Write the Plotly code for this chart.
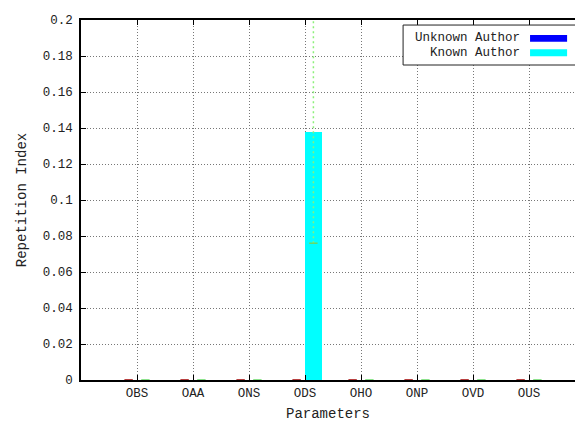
import plotly.graph_objects as go

categories = ["OBS", "OAA", "ONS", "ODS", "OHO", "ONP", "OVD", "OUS"]
unknown_vals = [0, 0, 0, 0, 0, 0, 0, 0]
known_vals = [0, 0, 0, 0.1378, 0, 0, 0, 0]
unknown_err = [0, 0, 0, 0, 0, 0, 0, 0]
known_err = [0, 0, 0, 0.0618, 0, 0, 0, 0]
y_ticks = [0, 0.02, 0.04, 0.06, 0.08, 0.1, 0.12, 0.14, 0.16, 0.18, 0.2]
y_ticklabels = ["0", "0.02", "0.04", "0.06", "0.08", "0.1", "0.12", "0.14", "0.16", "0.18", "0.2"]

FONT = "Courier New, Liberation Mono, monospace"
BW = 0.3
xs = list(range(len(categories)))

fig = go.Figure()
fig.add_trace(go.Bar(x=xs, y=unknown_vals, width=BW, offset=-BW, marker=dict(color="#0000ff", line=dict(width=0)),
                     name="Unknown Author", showlegend=False))
fig.add_trace(go.Bar(x=xs, y=known_vals, width=BW, offset=0, marker=dict(color="#00ffff", line=dict(width=0)),
                     name="Known Author", showlegend=False))

def err_traces(vals, errs, shift, linecol, capcol):
    lx, ly, cx, cy = [], [], [], []
    for i, (v, e) in enumerate(zip(vals, errs)):
        x = i + shift
        lx += [x, x, None]
        ly += [v - e, v + e, None]
        cx += [x]
        cy += [v - e]
    fig.add_trace(go.Scatter(x=lx, y=ly, mode="lines", line=dict(color=linecol, width=1.5, dash="2px,3px"),
                             showlegend=False, hoverinfo="skip", cliponaxis=False))
    fig.add_trace(go.Scatter(x=cx, y=cy, mode="markers",
                             marker=dict(symbol="line-ew", size=6, line=dict(color=capcol, width=1.5)),
                             showlegend=False, hoverinfo="skip"))

err_traces(unknown_vals, unknown_err, -BW / 2, "#c00000", "#a00000")
err_traces(known_vals, known_err, BW / 2, "#8cf07a", "#66d966")

# manual gnuplot-style legend
fig.add_shape(type="rect", xref="paper", yref="paper", x0=0.652, x1=1.02, y0=0.875, y1=0.986,
              line=dict(color="#222", width=1), fillcolor="white", layer="above")
for label, col, yy in [("Unknown Author", "#0000ff", 0.949), ("Known Author", "#00ffff", 0.909)]:
    fig.add_annotation(xref="paper", yref="paper", x=0.893, y=yy, text=label, showarrow=False,
                       xanchor="right", yanchor="middle", font=dict(family=FONT, size=12.5, color="#222"))
    fig.add_shape(type="rect", xref="paper", yref="paper", x0=0.909, x1=0.984, y0=yy - 0.0095, y1=yy + 0.0095,
                  line=dict(width=0), fillcolor=col, layer="above")

fig.update_layout(
    width=575, height=423,
    margin=dict(l=81, r=0, t=20, b=43),
    paper_bgcolor="white", plot_bgcolor="white",
    font=dict(family=FONT, size=12.5, color="#222"),
    bargap=0,
    xaxis=dict(
        range=[-1, (575 - 81) / 56 - 1],
        tickmode="array", tickvals=xs, ticktext=categories,
        showgrid=True, gridcolor="#777", griddash="1px,2px", gridwidth=1,
        showline=True, linecolor="black", linewidth=1.5, mirror="ticks",
        ticks="inside", ticklen=5, tickcolor="black",
        zeroline=False,
        title=dict(text="Parameters", font=dict(family=FONT, size=14), standoff=8),
    ),
    yaxis=dict(
        range=[0, 0.2],
        tickmode="array", tickvals=y_ticks, ticktext=y_ticklabels,
        showgrid=True, gridcolor="#777", griddash="1px,2px", gridwidth=1,
        showline=True, linecolor="black", linewidth=1.5,
        ticks="inside", ticklen=5, tickcolor="black", ticklabelstandoff=4,
        zeroline=False,
        title=dict(text="Repetition Index", font=dict(family=FONT, size=14), standoff=13),
    ),
)

fig.write_html("out.html")
